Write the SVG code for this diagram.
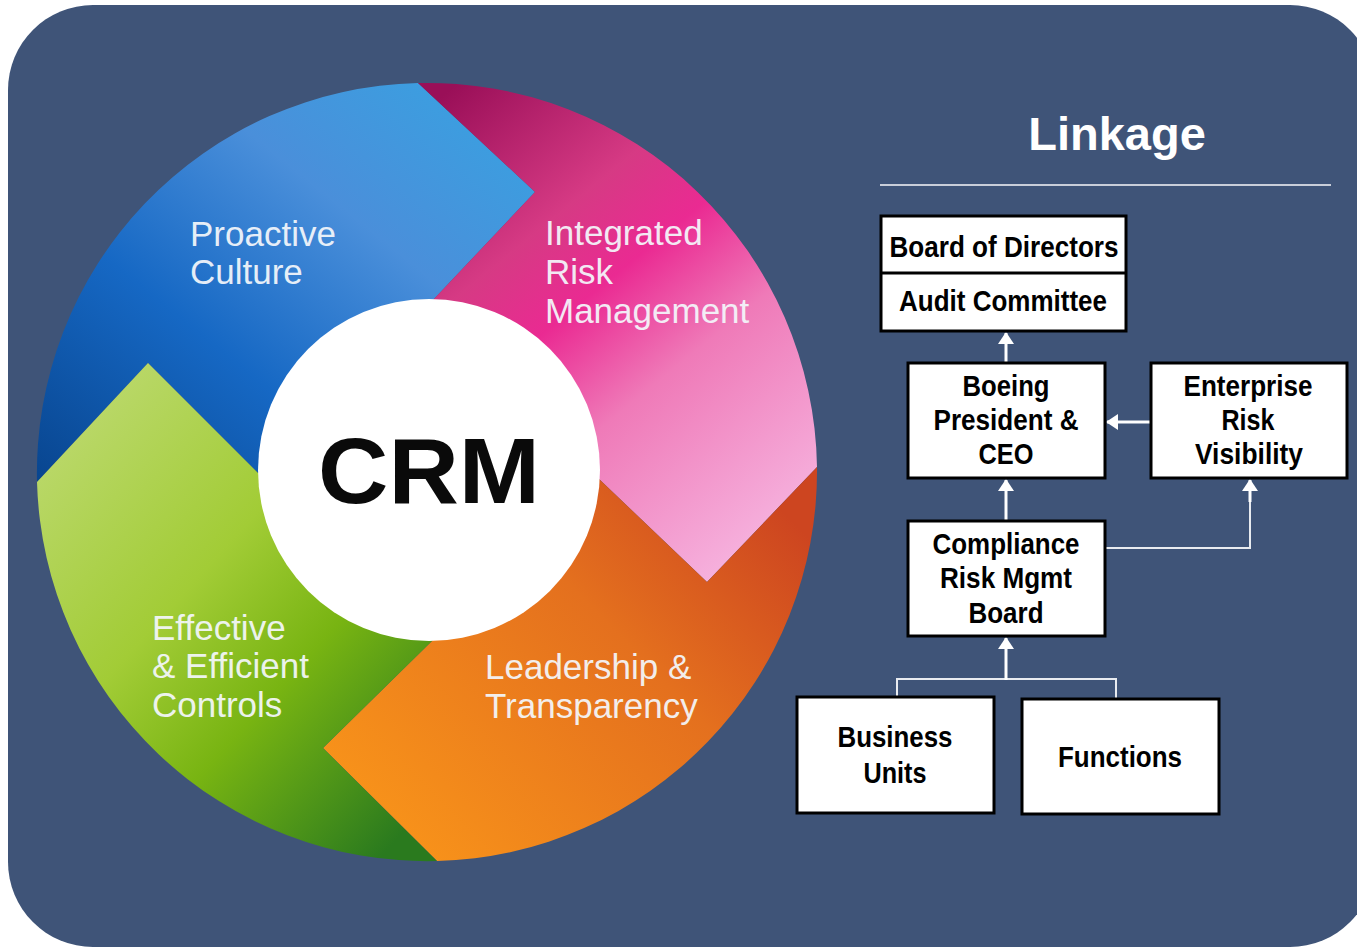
<svg xmlns="http://www.w3.org/2000/svg" width="1357" height="947" viewBox="0 0 1357 947">
<defs>
<linearGradient id="gBlue" x1="0" y1="1" x2="1" y2="0">
<stop offset="0" stop-color="#08458f"/>
<stop offset="0.35" stop-color="#1668c4"/>
<stop offset="0.65" stop-color="#4a8fda"/>
<stop offset="1" stop-color="#36a4e2"/>
</linearGradient>
<linearGradient id="gPink" x1="0.1" y1="0" x2="0.75" y2="1">
<stop offset="0" stop-color="#9a0f58"/>
<stop offset="0.3" stop-color="#d63a84"/>
<stop offset="0.45" stop-color="#ea2a92"/>
<stop offset="0.65" stop-color="#ef7ab8"/>
<stop offset="1" stop-color="#f6b2de"/>
</linearGradient>
<linearGradient id="gOrange" x1="1" y1="0.2" x2="0.1" y2="0.9">
<stop offset="0" stop-color="#cd4520"/>
<stop offset="0.4" stop-color="#e4701e"/>
<stop offset="1" stop-color="#f8931a"/>
</linearGradient>
<linearGradient id="gGreen" x1="0.05" y1="0.1" x2="0.85" y2="1">
<stop offset="0" stop-color="#bcd96e"/>
<stop offset="0.4" stop-color="#a2cc36"/>
<stop offset="0.65" stop-color="#78b412"/>
<stop offset="1" stop-color="#2a7a1e"/>
</linearGradient>
<marker id="ah" viewBox="0 0 12 16" refX="11" refY="8" markerWidth="12" markerHeight="16" markerUnits="userSpaceOnUse" orient="auto">
<path d="M0,0 L12,8 L0,16 Z" fill="#ffffff"/>
</marker>
<style>
.wheel-txt{font-family:"Liberation Sans",Arial,sans-serif;font-size:35px;fill:#f4f7fb;opacity:0.93}
.box{fill:#ffffff;stroke:#000000;stroke-width:3}
.btxt{font-family:"Liberation Sans Narrow","Liberation Sans",Arial,sans-serif;font-weight:bold;font-size:30px;fill:#000000;text-anchor:middle}
.arrow{fill:none;stroke:#ffffff;stroke-width:3;marker-end:url(#ah)}
.link{fill:none;stroke:#e8ebf0;stroke-width:2}
</style>
</defs>
<rect x="8" y="5" width="1367" height="942" rx="85" ry="85" fill="#3f5478"/>

<g id="wheel">
<path id="seg-blue" fill="url(#gBlue)" d="M426,472 L258,473 L148,363 L37,482 A390,390 0 0 1 418,83 L535,192 L433,300 Z"/>
<path id="seg-pink" fill="url(#gPink)" d="M426,472 L433,300 L535,192 L418,83 A390,390 0 0 1 817,467 L707,582 L598,478 Z"/>
<path id="seg-orange" fill="url(#gOrange)" d="M426,472 L598,478 L707,582 L817,467 A390,390 0 0 1 437,861 L323,748 L433,640 Z"/>
<path id="seg-green" fill="url(#gGreen)" d="M426,472 L433,640 L323,748 L437,861 A390,390 0 0 1 37,482 L148,363 L258,473 Z"/>
<circle cx="429" cy="470" r="171" fill="#ffffff"/>
<text x="429" y="503" text-anchor="middle" font-family="Liberation Sans,Arial,sans-serif" font-weight="bold" font-size="93" textLength="222" lengthAdjust="spacingAndGlyphs" fill="#0a0a0a">CRM</text>
<text class="wheel-txt" x="190" y="246">Proactive</text>
<text class="wheel-txt" x="190" y="284">Culture</text>
<text class="wheel-txt" x="545" y="245">Integrated</text>
<text class="wheel-txt" x="545" y="284">Risk</text>
<text class="wheel-txt" x="545" y="323">Management</text>
<text class="wheel-txt" x="152" y="640">Effective</text>
<text class="wheel-txt" x="152" y="678">&amp; Efficient</text>
<text class="wheel-txt" x="152" y="717">Controls</text>
<text class="wheel-txt" x="485" y="679">Leadership &amp;</text>
<text class="wheel-txt" x="485" y="718">Transparency</text>
</g>

<g id="title">
<text x="1117" y="150" text-anchor="middle" font-family="Liberation Sans,Arial,sans-serif" font-weight="bold" font-size="47" fill="#ffffff">Linkage</text>
<line x1="880" y1="185" x2="1331" y2="185" stroke="#c9ced9" stroke-width="2"/>
</g>

<g id="connectors">
<line class="arrow" x1="1006" y1="362" x2="1006" y2="333"/>
<line class="arrow" x1="1006" y1="520" x2="1006" y2="480"/>
<line class="arrow" x1="1150" y1="422" x2="1107" y2="422"/>
<polyline class="link" points="1105,548 1250,548 1250,500"/>
<line class="arrow" x1="1250" y1="502" x2="1250" y2="480" stroke-width="2"/>
<polyline class="link" points="897,697 897,679 1116,679 1116,699"/>
<line class="arrow" x1="1006" y1="680" x2="1006" y2="638"/>
</g>

<g id="node-board">
<rect class="box" x="881" y="216" width="245" height="115"/>
<line x1="881" y1="273" x2="1126" y2="273" stroke="#000" stroke-width="3"/>
<text class="btxt" x="1004" y="257" textLength="229" lengthAdjust="spacingAndGlyphs">Board of Directors</text>
<text class="btxt" x="1003" y="311" textLength="208" lengthAdjust="spacingAndGlyphs">Audit Committee</text>
</g>

<g id="node-ceo">
<rect class="box" x="908" y="363" width="197" height="115"/>
<text class="btxt" x="1006" y="396" textLength="87" lengthAdjust="spacingAndGlyphs">Boeing</text>
<text class="btxt" x="1006" y="430" textLength="145" lengthAdjust="spacingAndGlyphs">President &amp;</text>
<text class="btxt" x="1006" y="464" textLength="55" lengthAdjust="spacingAndGlyphs">CEO</text>
</g>

<g id="node-erv">
<rect class="box" x="1151" y="363" width="196" height="115"/>
<text class="btxt" x="1248" y="396" textLength="129" lengthAdjust="spacingAndGlyphs">Enterprise</text>
<text class="btxt" x="1248" y="430" textLength="53" lengthAdjust="spacingAndGlyphs">Risk</text>
<text class="btxt" x="1249" y="464" textLength="108" lengthAdjust="spacingAndGlyphs">Visibility</text>
</g>

<g id="node-crmb">
<rect class="box" x="908" y="521" width="197" height="115"/>
<text class="btxt" x="1006" y="554" textLength="147" lengthAdjust="spacingAndGlyphs">Compliance</text>
<text class="btxt" x="1006" y="588" textLength="132" lengthAdjust="spacingAndGlyphs">Risk Mgmt</text>
<text class="btxt" x="1006" y="623" textLength="75" lengthAdjust="spacingAndGlyphs">Board</text>
</g>

<g id="node-bu">
<rect class="box" x="797" y="697" width="197" height="116"/>
<text class="btxt" x="895" y="747" textLength="115" lengthAdjust="spacingAndGlyphs">Business</text>
<text class="btxt" x="895" y="783" textLength="63" lengthAdjust="spacingAndGlyphs">Units</text>
</g>

<g id="node-func">
<rect class="box" x="1022" y="699" width="197" height="115"/>
<text class="btxt" x="1120" y="767" textLength="124" lengthAdjust="spacingAndGlyphs">Functions</text>
</g>
</svg>
